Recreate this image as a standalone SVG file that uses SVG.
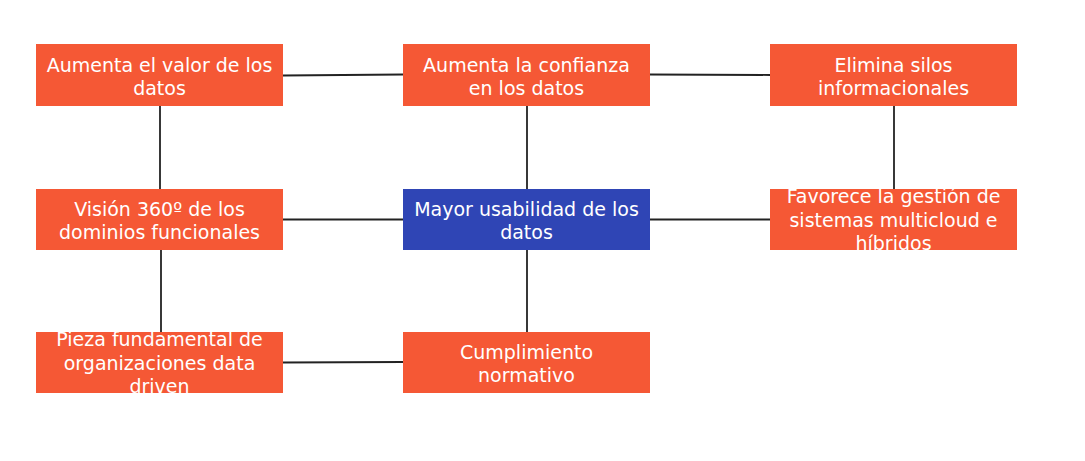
<svg xmlns="http://www.w3.org/2000/svg" width="1085" height="461" viewBox="0 0 1085 461">
<style>
.box{fill:#F55835}
.blue{fill:#2F45B5}
.t{font-family:"DejaVu Sans","Liberation Sans",sans-serif;font-size:19px;fill:#FFFFFF;text-anchor:middle}
.c{stroke:#222222;stroke-width:1.8;fill:none}
</style>
<rect width="1085" height="461" fill="#FFFFFF"/>
<g id="connectors">
<line class="c" x1="283" y1="75.5" x2="403" y2="74.5"/>
<line class="c" x1="650" y1="74.5" x2="770" y2="75"/>
<line class="c" x1="160" y1="106" x2="160" y2="189"/>
<line class="c" x1="527" y1="106" x2="527" y2="189"/>
<line class="c" x1="894" y1="106" x2="894" y2="189"/>
<line class="c" x1="283" y1="219.5" x2="403" y2="219.5"/>
<line class="c" x1="650" y1="219.5" x2="770" y2="219.5"/>
<line class="c" x1="161" y1="250" x2="161" y2="332"/>
<line class="c" x1="527" y1="250" x2="527" y2="332"/>
<line class="c" x1="283" y1="362.5" x2="403" y2="362"/>
</g>
<g id="n1">
<rect class="box" x="36" y="44" width="247" height="62"/>
<text class="t" x="159.5" y="71.5">Aumenta el valor de los</text>
<text class="t" x="159.5" y="94.5">datos</text>
</g>
<g id="n2">
<rect class="box" x="403" y="44" width="247" height="62"/>
<text class="t" x="526.5" y="71.5">Aumenta la confianza</text>
<text class="t" x="526.5" y="94.5">en los datos</text>
</g>
<g id="n3">
<rect class="box" x="770" y="44" width="247" height="62"/>
<text class="t" x="893.5" y="71.5">Elimina silos</text>
<text class="t" x="893.5" y="94.5">informacionales</text>
</g>
<g id="n4">
<rect class="box" x="36" y="189" width="247" height="61"/>
<text class="t" x="159.5" y="216">Visión 360º de los</text>
<text class="t" x="159.5" y="239">dominios funcionales</text>
</g>
<g id="n5">
<rect class="blue" x="403" y="189" width="247" height="61"/>
<text class="t" x="526.5" y="216">Mayor usabilidad de los</text>
<text class="t" x="526.5" y="239">datos</text>
</g>
<g id="n6">
<rect class="box" x="770" y="189" width="247" height="61"/>
<text class="t" x="893.5" y="203">Favorece la gestión de</text>
<text class="t" x="893.5" y="227">sistemas multicloud e</text>
<text class="t" x="893.5" y="250">híbridos</text>
</g>
<g id="n7">
<rect class="box" x="36" y="332" width="247" height="61"/>
<text class="t" x="159.5" y="346">Pieza fundamental de</text>
<text class="t" x="159.5" y="370">organizaciones data</text>
<text class="t" x="159.5" y="393">driven</text>
</g>
<g id="n8">
<rect class="box" x="403" y="332" width="247" height="61"/>
<text class="t" x="526.5" y="359">Cumplimiento</text>
<text class="t" x="526.5" y="382">normativo</text>
</g>
</svg>
